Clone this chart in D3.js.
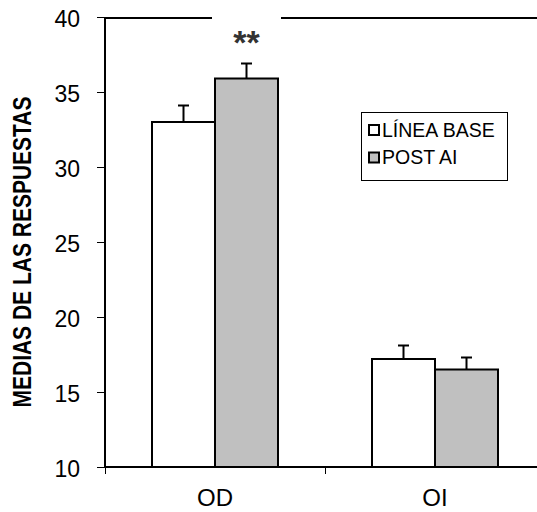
<!DOCTYPE html>
<html>
<head>
<meta charset="utf-8">
<script src="https://cdn.jsdelivr.net/npm/d3@7"></script>
<style>
    body { margin: 0; background: #fff; overflow: hidden; }
    svg { display: block; font-family: Arial, "Liberation Sans", sans-serif; }
</style>
</head>
<body>
<main><svg width="537" height="512"></svg></main>
<script>
const categories = ["OD", "OI"];
const series = ["LÍNEA BASE", "POST AI"];
const baseline = [33.0, 17.2];
const baselineErr = [1.1, 0.9];
const postAI = [35.9, 16.5];
const postAIErr = [1.0, 0.8];
const yTicks = [10, 15, 20, 25, 30, 35, 40];
const fills = ["#ffffff", "#c0c0c0"];

const svg = d3.select("main svg");

const plotLeft = 105;
const plotTop = 17;
const plotBottom = 467;

const x0 = d3.scaleBand().domain(categories).range([plotLeft, plotLeft + 440]);
const x1 = d3.scaleBand().domain(series).range([47, 173]);
const y = d3.scaleLinear().domain([10, 40]).range([plotBottom, plotTop]);

const rows = categories.map((c, i) => ({
    category: c,
    bars: [
        { key: series[0], value: baseline[i], err: baselineErr[i] },
        { key: series[1], value: postAI[i], err: postAIErr[i] },
    ],
}));

// y axis (ticks + labels), frame drawn separately
const yAxis = svg
    .append("g")
    .attr("transform", `translate(${plotLeft},0)`)
    .call(d3.axisLeft(y).tickValues(yTicks).tickSize(8).tickPadding(17));
yAxis.select(".domain").remove();
yAxis.selectAll(".tick line").attr("stroke", "#000").attr("stroke-width", 1);
yAxis
    .selectAll(".tick text")
    .attr("fill", "#000")
    .attr("font-size", 23)
    .attr("font-family", "Arial, 'Liberation Sans', sans-serif")
    .attr("dy", "0.4em");

// x axis labels
const xAxis = svg
    .append("g")
    .attr("transform", `translate(0,${plotBottom})`)
    .call(d3.axisBottom(x0).tickSize(0).tickPadding(22));
xAxis.select(".domain").remove();
xAxis
    .selectAll(".tick text")
    .attr("fill", "#000")
    .attr("font-size", 24)
    .attr("font-family", "Arial, 'Liberation Sans', sans-serif");

// category boundary ticks
svg
    .append("g")
    .selectAll("line")
    .data(categories)
    .join("line")
    .attr("x1", d => x0(d) + 0.5)
    .attr("x2", d => x0(d) + 0.5)
    .attr("y1", plotBottom)
    .attr("y2", plotBottom + 7)
    .attr("stroke", "#000")
    .attr("stroke-width", 1);

// bars
const groups = svg
    .append("g")
    .selectAll("g")
    .data(rows)
    .join("g")
    .attr("transform", d => `translate(${x0(d.category)},0)`);

groups
    .selectAll("rect")
    .data(d => d.bars)
    .join("rect")
    .attr("x", d => x1(d.key))
    .attr("y", d => y(d.value))
    .attr("width", x1.bandwidth())
    .attr("height", d => plotBottom - y(d.value))
    .attr("fill", (d, i) => fills[i])
    .attr("stroke", "#000")
    .attr("stroke-width", 2);

const errs = groups
    .selectAll("g.err")
    .data(d => d.bars)
    .join("g")
    .attr("class", "err")
    .attr("transform", d => `translate(${x1(d.key) + x1.bandwidth() / 2},0)`);
errs
    .append("line")
    .attr("y1", d => y(d.value))
    .attr("y2", d => y(d.value + d.err))
    .attr("stroke", "#000")
    .attr("stroke-width", 2);
errs
    .append("line")
    .attr("x1", -5.5)
    .attr("x2", 5.5)
    .attr("y1", d => y(d.value + d.err))
    .attr("y2", d => y(d.value + d.err))
    .attr("stroke", "#000")
    .attr("stroke-width", 2);

// frame: left, top and bottom lines
const frame = svg.append("g").attr("stroke", "#000").attr("stroke-width", 2);
frame.append("line").attr("x1", plotLeft).attr("x2", plotLeft).attr("y1", plotTop).attr("y2", plotBottom);
frame.append("line").attr("x1", plotLeft - 1).attr("x2", 537).attr("y1", plotTop + 1).attr("y2", plotTop + 1);
frame.append("line").attr("x1", plotLeft - 1).attr("x2", 537).attr("y1", plotBottom).attr("y2", plotBottom);

// significance label over POST AI (OD), with white box hiding the top line
const sigX = x0("OD") + x1("POST AI") + x1.bandwidth() / 2;
svg.append("rect").attr("x", 212).attr("y", 8).attr("width", 69).attr("height", 36).attr("fill", "#fff");
svg
    .append("text")
    .attr("x", sigX)
    .attr("y", 54)
    .attr("text-anchor", "middle")
    .attr("font-size", 34)
    .attr("font-weight", "bold")
    .attr("fill", "#333")
    .text("**");

// y axis title
svg
    .append("text")
    .attr("transform", "translate(31,252) scale(1.2,1) rotate(-90)")
    .attr("text-anchor", "middle")
    .attr("font-size", 21)
    .attr("font-weight", "bold")
    .attr("fill", "#000")
    .text("MEDIAS DE LAS RESPUESTAS");

// legend
const legend = svg.append("g").attr("transform", "translate(361,112)");
legend
    .append("rect")
    .attr("x", 0.5)
    .attr("y", 0.5)
    .attr("width", 146)
    .attr("height", 68)
    .attr("fill", "#fff")
    .attr("stroke", "#000")
    .attr("stroke-width", 1);
const items = legend
    .selectAll("g")
    .data(series)
    .join("g")
    .attr("transform", (d, i) => `translate(0,${13 + i * 27.5})`);
items
    .append("rect")
    .attr("x", 8)
    .attr("y", 0)
    .attr("width", 10)
    .attr("height", 10)
    .attr("fill", (d, i) => fills[i])
    .attr("stroke", "#000")
    .attr("stroke-width", 2);
items
    .append("text")
    .attr("x", 21)
    .attr("y", 11.5)
    .attr("font-size", 19.5)
    .attr("fill", "#000")
    .text(d => d);
</script>
</body>
</html>
